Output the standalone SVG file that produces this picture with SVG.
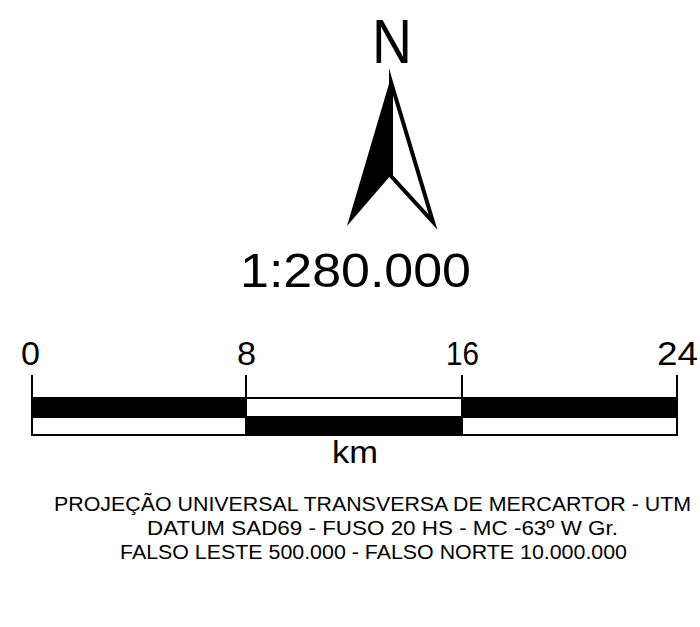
<svg xmlns="http://www.w3.org/2000/svg" width="700" height="627" viewBox="0 0 700 627">
<style>
  text { font-family: "Liberation Sans", Arial, sans-serif; fill: #000; }
  .lbl { font-size: 33px; }
  .note { font-size: 20px; }
  .ln { stroke: #000; stroke-width: 2; fill: none; }
</style>
<rect width="700" height="627" fill="#fff"/>
<g id="north">
  <text x="392" y="63" font-size="63" text-anchor="middle" textLength="40" lengthAdjust="spacingAndGlyphs">N</text>
  <polygon points="391,77 347,226 391,175" fill="#000"/>
  <path d="M391,82 L433,222 L391,176 Z" fill="#fff" stroke="#000" stroke-width="4" stroke-linejoin="miter" stroke-miterlimit="10"/>
</g>
<g id="scale-text">
  <text x="240" y="287" font-size="48" textLength="231" lengthAdjust="spacingAndGlyphs">1:280.000</text>
</g>
<g id="scalebar">
  <rect x="32" y="398" width="214" height="19" fill="#000"/>
  <rect x="246" y="417" width="216" height="18" fill="#000"/>
  <rect x="462" y="398" width="215" height="19" fill="#000"/>
  <rect x="32" y="398" width="645" height="37" class="ln"/>
  <line x1="32" y1="417" x2="677" y2="417" class="ln"/>
  <line x1="32" y1="375" x2="32" y2="435" class="ln"/>
  <line x1="246" y1="375" x2="246" y2="435" class="ln"/>
  <line x1="462" y1="375" x2="462" y2="435" class="ln"/>
  <line x1="677" y1="375" x2="677" y2="435" class="ln"/>
  <text class="lbl" x="21" y="365" textLength="19" lengthAdjust="spacingAndGlyphs">0</text>
  <text class="lbl" x="237" y="365" textLength="19" lengthAdjust="spacingAndGlyphs">8</text>
  <text class="lbl" x="446" y="365" textLength="33" lengthAdjust="spacingAndGlyphs">16</text>
  <text class="lbl" x="657" y="365" textLength="41" lengthAdjust="spacingAndGlyphs">24</text>
  <text x="332" y="463" font-size="31" textLength="46" lengthAdjust="spacingAndGlyphs">km</text>
</g>
<g id="notes">
  <text class="note" x="54" y="511" textLength="637" lengthAdjust="spacingAndGlyphs">PROJEÇÃO UNIVERSAL TRANSVERSA DE MERCARTOR - UTM</text>
  <text class="note" x="147" y="535" textLength="471" lengthAdjust="spacingAndGlyphs">DATUM SAD69 - FUSO 20 HS - MC -63º W Gr.</text>
  <text class="note" x="120" y="559" textLength="507" lengthAdjust="spacingAndGlyphs">FALSO LESTE 500.000 - FALSO NORTE 10.000.000</text>
</g>
</svg>
